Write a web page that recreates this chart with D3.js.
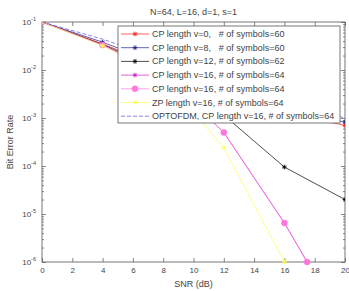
<!DOCTYPE html>
<html>
<head>
<meta charset="utf-8">
<script src="https://cdn.jsdelivr.net/npm/d3@7"></script>
<style>
  body { margin: 0; background: #fff; }
  svg { display: block; font-family: "Liberation Sans", Arial, sans-serif; }
</style>
</head>
<body>
<div id="chart"></div>
<script>
var width = 349,
    height = 291;
var margin = {top: 22, right: 3, bottom: 29, left: 42};

// data (points every 4 dB)
var snr = [0, 4, 8, 12, 16, 20];
var snrCp16 = [0, 4, 8, 12, 16, 17.5];
var snrZp = [0, 4, 8, 12, 16];

var berCp0   = [0.1, 0.035, 0.011, 0.0035, 0.0013, 0.0007];
var berCp8   = [0.1, 0.038, 0.0125, 0.0042, 0.0016, 0.00082];
var berCp12  = [0.1, 0.034, 0.0095, 0.00115, 0.000095, 0.00002];
var berCp16  = [0.1, 0.033, 0.008, 0.0005, 0.0000065, 0.000001];
var berCp16b = [0.1, 0.033, 0.008, 0.0005, 0.0000065, 0.000001];
var berZp16  = [0.1, 0.032, 0.0072, 0.00024, 0.000001];
var berOpt   = [0.1, 0.044, 0.016, 0.0055, 0.0021, 0.001];

var legendLabels = [
  "CP length v=0,   # of symbols=60",
  "CP length v=8,   # of symbols=60",
  "CP length v=12, # of symbols=62",
  "CP length v=16, # of symbols=64",
  "CP length v=16, # of symbols=64",
  "ZP length v=16, # of symbols=64",
  "OPTOFDM, CP length v=16, # of symbols=64"
];
var xTicks = [0, 2, 4, 6, 8, 10, 12, 14, 16, 18, 20];
var yTicks = [1e-1, 1e-2, 1e-3, 1e-4, 1e-5, 1e-6];
var yTickExp = [-1, -2, -3, -4, -5, -6];

var series = [
  {x: snr,     y: berCp0,   color: "#ff2020", marker: "star", size: 2.3},
  {x: snr,     y: berCp8,   color: "#22228a", marker: "star", size: 2.3},
  {x: snr,     y: berCp12,  color: "#000000", marker: "star", size: 2.3},
  {x: snrCp16, y: berCp16,  color: "#cc22cc", marker: "star", size: 2.3},
  {x: snrCp16, y: berCp16b, color: "#ff77dd", marker: "dot",  size: 3},
  {x: snrZp,   y: berZp16,  color: "#ffff55", marker: "star", size: 2.3},
  {x: snr,     y: berOpt,   color: "#5555e0", marker: "none", dash: "4,2"}
];

var svg = d3.select("#chart").append("svg")
    .attr("width", width)
    .attr("height", height);

var x = d3.scaleLinear().domain([0, 20]).range([margin.left, width - margin.right - 1]);
var y = d3.scaleLog().domain([1e-6, 1e-1]).range([height - margin.bottom, margin.top]);

var x0 = x.range()[0], x1 = x.range()[1], y0 = y.range()[0], y1 = y.range()[1];

svg.append("defs").append("clipPath").attr("id", "plotclip")
  .append("rect")
    .attr("x", x0).attr("y", y1 - 0.5)
    .attr("width", x1 - x0).attr("height", y0 - y1 + 4);

// box
svg.append("rect")
    .attr("x", x0).attr("y", y1)
    .attr("width", x1 - x0).attr("height", y0 - y1)
    .attr("fill", "#fff")
    .attr("stroke", "#555")
    .attr("stroke-width", 0.8);

// axes
var xAxis = svg.append("g")
    .attr("transform", "translate(0," + y0 + ")")
    .call(d3.axisBottom(x).tickValues(xTicks).tickSize(-4).tickPadding(5).tickFormat(d3.format("d")));
var xAxisTop = svg.append("g")
    .attr("transform", "translate(0," + y1 + ")")
    .call(d3.axisTop(x).tickValues(xTicks).tickSize(-4).tickFormat(""));

var minor = [];
yTicks.forEach(function(t) {
  for (var k = 2; k <= 9; k++) { if (t * k < 0.1) minor.push(t * k); }
});

var yAxis = svg.append("g")
    .attr("transform", "translate(" + x0 + ",0)")
    .call(d3.axisLeft(y).tickValues(yTicks).tickSize(-4).tickFormat(""));
var yAxisMinor = svg.append("g")
    .attr("transform", "translate(" + x0 + ",0)")
    .call(d3.axisLeft(y).tickValues(minor).tickSize(-2).tickFormat(""));
var yAxisR = svg.append("g")
    .attr("transform", "translate(" + x1 + ",0)")
    .call(d3.axisRight(y).tickValues(yTicks).tickSize(-4).tickFormat(""));
var yAxisRMinor = svg.append("g")
    .attr("transform", "translate(" + x1 + ",0)")
    .call(d3.axisRight(y).tickValues(minor).tickSize(-2).tickFormat(""));

svg.selectAll(".domain").remove();
svg.selectAll(".tick line").attr("stroke", "#555").attr("stroke-width", 0.7);
xAxis.selectAll("text").attr("font-size", 8).attr("fill", "#444").attr("font-family", "Liberation Sans, Arial, sans-serif");

// y tick labels 10^n
var ylab = svg.append("g");
yTicks.forEach(function(t, i) {
  var tx = ylab.append("text")
      .attr("x", x0 - 6)
      .attr("y", y(t) + 3)
      .attr("text-anchor", "end")
      .attr("font-size", 8)
      .attr("fill", "#444");
  tx.append("tspan").text("10");
  tx.append("tspan").attr("dy", -4).attr("font-size", 5.5).text(yTickExp[i]);
});

// curves
var line = d3.line()
    .x(function(d) { return x(d[0]); })
    .y(function(d) { return y(d[1]); });

var plot = svg.append("g").attr("clip-path", "url(#plotclip)");

function starPath(s) {
  var d = s * 0.7;
  return "M" + (-s) + ",0L" + s + ",0M0," + (-s) + "L0," + s +
         "M" + (-d) + "," + (-d) + "L" + d + "," + d + "M" + (-d) + "," + d + "L" + d + "," + (-d);
}

function drawMarker(g, s, px, py) {
  if (s.marker === "star") {
    g.append("path")
      .attr("d", starPath(s.size))
      .attr("transform", "translate(" + px + "," + py + ")")
      .attr("stroke", s.color).attr("stroke-width", 0.9).attr("fill", "none");
  } else if (s.marker === "dot") {
    g.append("circle")
      .attr("cx", px).attr("cy", py).attr("r", s.size)
      .attr("fill", s.color).attr("stroke", s.color).attr("stroke-width", 0.5);
  }
}

series.forEach(function(s) {
  var pts = s.x.map(function(v, i) { return [v, s.y[i]]; });
  plot.append("path")
      .datum(pts)
      .attr("d", line)
      .attr("fill", "none")
      .attr("stroke", s.color)
      .attr("stroke-width", 0.7)
      .attr("stroke-dasharray", s.dash || null);
  pts.forEach(function(p) { drawMarker(plot, s, x(p[0]), y(p[1])); });
});

// legend
var lg = svg.append("g");
lg.append("rect")
    .attr("x", 118).attr("y", 26)
    .attr("width", 222).attr("height", 97)
    .attr("fill", "#fff")
    .attr("stroke", "#555")
    .attr("stroke-width", 0.8);

series.forEach(function(s, i) {
  var ly = 34 + i * 13.7;
  lg.append("line")
      .attr("x1", 121).attr("x2", 149)
      .attr("y1", ly).attr("y2", ly)
      .attr("stroke", s.color)
      .attr("stroke-width", 0.7)
      .attr("stroke-dasharray", s.dash || null);
  drawMarker(lg, s, 135, ly);
  lg.append("text")
      .attr("x", 152).attr("y", ly + 3)
      .attr("font-size", 9)
      .attr("fill", "#444")
      .attr("xml:space", "preserve")
      .style("white-space", "pre")
      .text(legendLabels[i]);
});

// title and axis labels
svg.append("text")
    .attr("x", (x0 + x1) / 2).attr("y", 15)
    .attr("text-anchor", "middle")
    .attr("font-size", 9)
    .attr("fill", "#444")
    .text("N=64, L=16, d=1, s=1");

svg.append("text")
    .attr("x", (x0 + x1) / 2).attr("y", 287)
    .attr("text-anchor", "middle")
    .attr("font-size", 9)
    .attr("fill", "#444")
    .text("SNR (dB)");

svg.append("text")
    .attr("transform", "translate(13," + ((y0 + y1) / 2) + ") rotate(-90)")
    .attr("text-anchor", "middle")
    .attr("font-size", 9)
    .attr("fill", "#444")
    .text("Bit Error Rate");
</script>
</body>
</html>
